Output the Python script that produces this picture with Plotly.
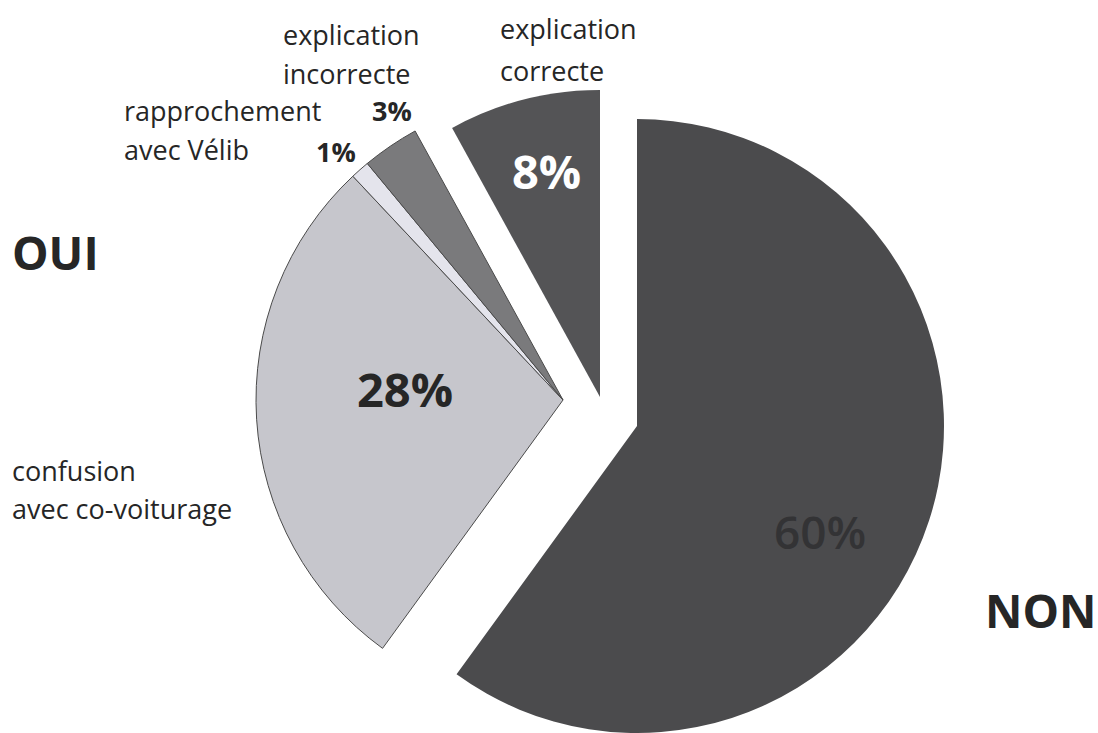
import plotly.graph_objects as go

W, H = 1098, 733

# ---- data ----
categories = ["NON", "confusion avec co-voiturage", "rapprochement avec Vélib",
              "explication incorrecte", "explication correcte"]
values = [60, 28, 1, 3, 8]
label_lines = [[], ["confusion", "avec co-voiturage"], ["rapprochement", "avec Vélib"],
               ["explication", "incorrecte"], ["explication", "correcte"]]
groups = ["NON", "OUI", "OUI", "OUI", "OUI"]

# ---- styles ----
slice_colors = ["#4b4b4d", "#c6c6cc", "#e4e4ec", "#7a7a7c", "#545456"]
slice_lines = ["#4b4b4d", "#4a4a4a", "#4a4a4a", "#4a4a4a", "#545456"]
line_widths = [0, 1, 1, 1, 0]
FONT = "Open Sans"
TXT = "#262626"

# piece groups: (slice indices, center px, radius px)
R = 307
pieces = [([0], (637, 426)), ([4], (600, 397)), ([1, 2, 3], (563, 400))]


def px(x, y):
    return x / W, 1 - y / H


fig = go.Figure()
for idx, (cx, cy) in pieces:
    cols = [slice_colors[i] if i in idx else "rgba(0,0,0,0)" for i in range(len(values))]
    lcols = [slice_lines[i] if i in idx else "rgba(0,0,0,0)" for i in range(len(values))]
    lw = [line_widths[i] if i in idx else 0 for i in range(len(values))]
    x0, y1 = px(cx - R, cy - R)
    x1, y0 = px(cx + R, cy + R)
    fig.add_trace(go.Pie(
        labels=categories, values=values, sort=False, direction="clockwise",
        rotation=0, textinfo="none", hoverinfo="skip", showlegend=False,
        marker=dict(colors=cols, line=dict(color=lcols, width=lw)),
        domain=dict(x=[max(0, x0), min(1, x1)], y=[max(0, y0), min(1, y1)]),
    ))

ann = []


def add(text, x, y, size, xanchor="center", color=TXT, weight="normal"):
    xp, yp = px(x, y)
    ann.append(dict(text=text, x=xp, y=yp,
                    xref="paper", yref="paper", xanchor=xanchor, yanchor="middle",
                    showarrow=False, borderpad=0,
                    font=dict(family=FONT, size=size, color=color, weight=weight)))


def add_lines(lines, x, ys, size):
    for t, y in zip(lines, ys):
        add(t, x, y, size, xanchor="left")


# category labels
add_lines(label_lines[4], 499, [29, 70], 27)
add_lines(label_lines[3], 282, [35, 73], 27)
add_lines(label_lines[2], 123, [110, 150], 27)
add_lines(label_lines[1], 11, [470, 508], 27)

# percentages
add(f"{values[3]}%", 392, 110, 27, weight="bold")
add(f"{values[2]}%", 336, 151, 27, weight="bold")
add(f"{values[4]}%", 546, 171, 47, weight="bold", color="white")
add(f"{values[1]}%", 405, 389, 47, weight="bold")
add(f"{values[0]}%", 820, 531, 46, color="#333335", weight=600)

# group labels
add("OUI", 11, 252, 46, xanchor="left", weight="bold")
add("NON", 1097, 610, 46, xanchor="right", weight="bold")

fig.update_layout(width=W, height=H, margin=dict(l=0, r=0, t=0, b=0),
                  paper_bgcolor="white", plot_bgcolor="white", annotations=ann)

fig.write_html("out.html", config={"displayModeBar": False},
               post_script="document.body.style.margin='0';document.body.style.overflow='hidden';")
